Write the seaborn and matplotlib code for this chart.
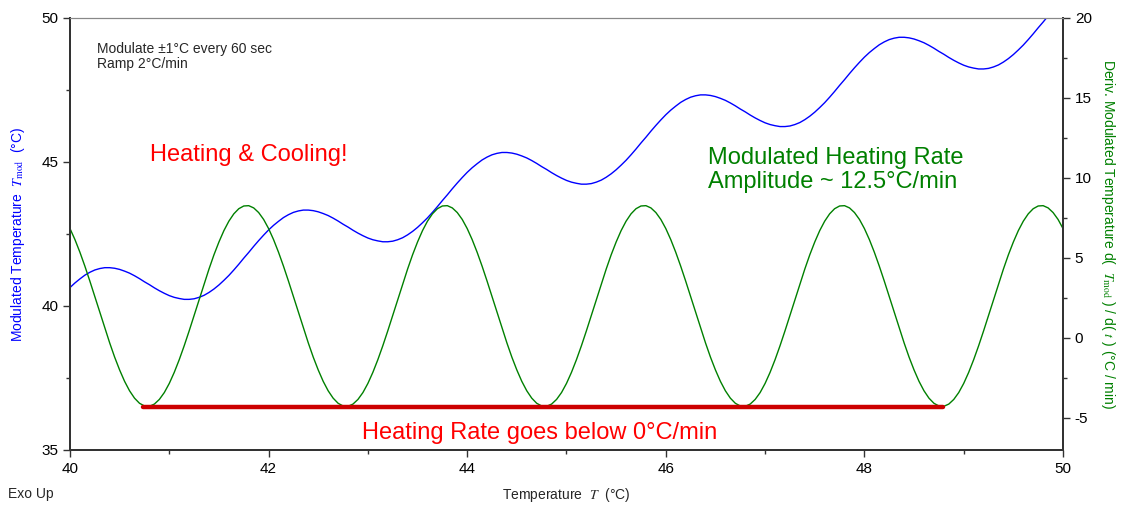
import numpy as np
import pandas as pd
import matplotlib
matplotlib.use("Agg")
import matplotlib.pyplot as plt
from matplotlib.ticker import MultipleLocator
import seaborn as sns

# temperature axis, read every 0.05 °C
temp = np.round(np.arange(800, 1001) / 20, 2)

# modulated temperature (left axis)
t_mod = [
    40.64, 40.80, 40.94, 41.07, 41.17, 41.25, 41.30, 41.33, 41.33, 41.31,
    41.27, 41.21, 41.14, 41.05, 40.95, 40.84, 40.74, 40.63, 40.53, 40.44,
    40.36, 40.30, 40.26, 40.23, 40.23, 40.25, 40.30, 40.37, 40.47, 40.59,
    40.73, 40.89, 41.06, 41.25, 41.45, 41.66, 41.86, 42.07, 42.27, 42.46,
    42.64, 42.80, 42.94, 43.07, 43.17, 43.25, 43.30, 43.33, 43.33, 43.31,
    43.27, 43.21, 43.14, 43.05, 42.95, 42.84, 42.74, 42.63, 42.53, 42.44,
    42.36, 42.30, 42.26, 42.23, 42.23, 42.25, 42.30, 42.37, 42.47, 42.59,
    42.73, 42.89, 43.06, 43.25, 43.45, 43.66, 43.86, 44.07, 44.27, 44.46,
    44.64, 44.80, 44.94, 45.07, 45.17, 45.25, 45.30, 45.33, 45.33, 45.31,
    45.27, 45.21, 45.14, 45.05, 44.95, 44.84, 44.74, 44.63, 44.53, 44.44,
    44.36, 44.30, 44.26, 44.23, 44.23, 44.25, 44.30, 44.37, 44.47, 44.59,
    44.73, 44.89, 45.06, 45.25, 45.45, 45.66, 45.86, 46.07, 46.27, 46.46,
    46.64, 46.80, 46.94, 47.07, 47.17, 47.25, 47.30, 47.33, 47.33, 47.31,
    47.27, 47.21, 47.14, 47.05, 46.95, 46.84, 46.74, 46.63, 46.53, 46.44,
    46.36, 46.30, 46.26, 46.23, 46.23, 46.25, 46.30, 46.37, 46.47, 46.59,
    46.73, 46.89, 47.06, 47.25, 47.45, 47.66, 47.86, 48.07, 48.27, 48.46,
    48.64, 48.80, 48.94, 49.07, 49.17, 49.25, 49.30, 49.33, 49.33, 49.31,
    49.27, 49.21, 49.14, 49.05, 48.95, 48.84, 48.74, 48.63, 48.53, 48.44,
    48.36, 48.30, 48.26, 48.23, 48.23, 48.25, 48.30, 48.37, 48.47, 48.59,
    48.73, 48.89, 49.06, 49.25, 49.45, 49.66, 49.86, 50.07, 50.27, 50.46,
    50.64,
]

# derivative of modulated temperature (right axis)
deriv = [
    6.84, 6.15, 5.36, 4.49, 3.56, 2.59, 1.61, 0.63, -0.31, -1.20,
    -2.00, -2.71, -3.30, -3.76, -4.08, -4.25, -4.27, -4.13, -3.84, -3.41,
    -2.84, -2.15, -1.36, -0.49, 0.44, 1.41, 2.39, 3.37, 4.31, 5.20,
    6.00, 6.71, 7.30, 7.76, 8.08, 8.25, 8.27, 8.13, 7.84, 7.41,
    6.84, 6.15, 5.36, 4.49, 3.56, 2.59, 1.61, 0.63, -0.31, -1.20,
    -2.00, -2.71, -3.30, -3.76, -4.08, -4.25, -4.27, -4.13, -3.84, -3.41,
    -2.84, -2.15, -1.36, -0.49, 0.44, 1.41, 2.39, 3.37, 4.31, 5.20,
    6.00, 6.71, 7.30, 7.76, 8.08, 8.25, 8.27, 8.13, 7.84, 7.41,
    6.84, 6.15, 5.36, 4.49, 3.56, 2.59, 1.61, 0.63, -0.31, -1.20,
    -2.00, -2.71, -3.30, -3.76, -4.08, -4.25, -4.27, -4.13, -3.84, -3.41,
    -2.84, -2.15, -1.36, -0.49, 0.44, 1.41, 2.39, 3.37, 4.31, 5.20,
    6.00, 6.71, 7.30, 7.76, 8.08, 8.25, 8.27, 8.13, 7.84, 7.41,
    6.84, 6.15, 5.36, 4.49, 3.56, 2.59, 1.61, 0.63, -0.31, -1.20,
    -2.00, -2.71, -3.30, -3.76, -4.08, -4.25, -4.27, -4.13, -3.84, -3.41,
    -2.84, -2.15, -1.36, -0.49, 0.44, 1.41, 2.39, 3.37, 4.31, 5.20,
    6.00, 6.71, 7.30, 7.76, 8.08, 8.25, 8.27, 8.13, 7.84, 7.41,
    6.84, 6.15, 5.36, 4.49, 3.56, 2.59, 1.61, 0.63, -0.31, -1.20,
    -2.00, -2.71, -3.30, -3.76, -4.08, -4.25, -4.27, -4.13, -3.84, -3.41,
    -2.84, -2.15, -1.36, -0.49, 0.44, 1.41, 2.39, 3.37, 4.31, 5.20,
    6.00, 6.71, 7.30, 7.76, 8.08, 8.25, 8.27, 8.13, 7.84, 7.41,
    6.84,
]

# red "below zero" bar across the minima
below_x = [40.74, 48.79]
below_y = [-4.3, -4.3]

df = pd.DataFrame({"T": temp, "Tmod": t_mod, "dTmod": deriv})

sns.set_style("ticks")
plt.rcParams["font.family"] = ["Liberation Sans", "DejaVu Sans"]
plt.rcParams["mathtext.fontset"] = "stix"
plt.rcParams["axes.unicode_minus"] = False

fig = plt.figure(figsize=(11.25, 5.11), dpi=100)
ax = fig.add_axes([0.0622, 0.1194, 0.8827, 0.8454])
ax2 = ax.twinx()

sns.lineplot(data=df, x="T", y="Tmod", ax=ax, color="#0000ff", lw=1.0)
sns.lineplot(data=df, x="T", y="dTmod", ax=ax2, color="#008000", lw=1.0)
sns.lineplot(x=below_x, y=below_y, ax=ax2, color="#cc0000", lw=3.2)

ax.set_xlim(40, 50)
ax.set_ylim(35, 50)
ax2.set_ylim(-7, 20)

ax.xaxis.set_major_locator(MultipleLocator(2))
ax.xaxis.set_minor_locator(MultipleLocator(1))
ax.yaxis.set_major_locator(MultipleLocator(5))
ax.yaxis.set_minor_locator(MultipleLocator(2.5))
ax2.yaxis.set_major_locator(MultipleLocator(5))
ax2.yaxis.set_minor_locator(MultipleLocator(2.5))

for a in (ax, ax2):
    a.tick_params(which="major", direction="out", length=5, width=1, labelsize=11, colors="#333333", labelcolor="black")
    a.tick_params(which="minor", direction="out", length=3, width=1, colors="#333333")
    for side in ("left", "bottom", "right"):
        a.spines[side].set_color("#333333")
        a.spines[side].set_linewidth(1.4)
    a.spines["top"].set_color("#888888")
    a.spines["top"].set_linewidth(0.8)
    a.spines["top"].set_visible(True)
    a.spines["right"].set_visible(True)

ax.set_xlabel("Temperature  $T$  (°C)", fontsize=10, labelpad=7)
ax.set_ylabel("Modulated Temperature  $T_{\\mathrm{mod}}$  (°C)", fontsize=10, color="#0000ff", labelpad=10)
ax2.set_ylabel("Deriv. Modulated Temperature d(  $T_{\\mathrm{mod}}$ ) / d( $t$ ) (°C / min)",
               fontsize=10, color="#008000", rotation=270, labelpad=18)

ax.text(0.027, 0.945, "Modulate ±1°C every 60 sec\nRamp 2°C/min", transform=ax.transAxes,
        fontsize=10, va="top", ha="left", linespacing=1.1)
ax.text(0.081, 0.682, "Heating & Cooling!", transform=ax.transAxes, fontsize=17,
        color="#ff0000", va="center", ha="left")
ax.text(0.642, 0.648, "Modulated Heating Rate\nAmplitude ~ 12.5°C/min", transform=ax.transAxes,
        fontsize=17, color="#008000", va="center", ha="left", linespacing=1.1)
ax.text(0.294, 0.04, "Heating Rate goes below 0°C/min", transform=ax.transAxes,
        fontsize=17, color="#ff0000", va="center", ha="left")
fig.text(0.007, 0.033, "Exo Up", fontsize=10, va="center", ha="left")

fig.savefig("out.png", dpi=100)
